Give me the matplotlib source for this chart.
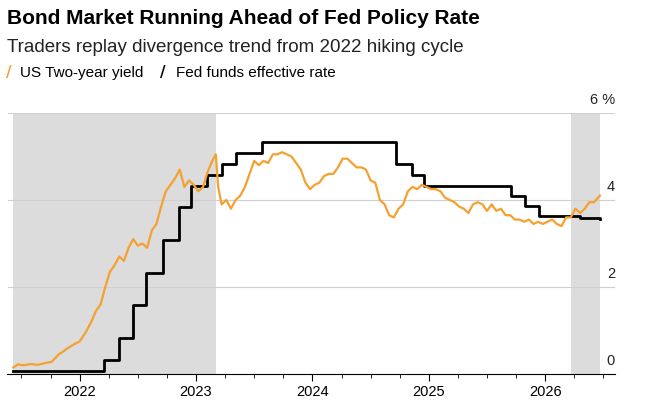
import matplotlib.pyplot as plt
import matplotlib.transforms as mtransforms

# Fed funds effective rate (step dates, values)
fed_dates = [2021.43, 2022.21, 2022.34, 2022.46, 2022.57, 2022.72, 2022.85, 2022.96,
             2023.09, 2023.22, 2023.34, 2023.57, 2024.72, 2024.86, 2024.96,
             2025.71, 2025.83, 2025.95, 2026.30, 2026.47]
fed_vals = [0.08, 0.33, 0.83, 1.58, 2.33, 3.08, 3.83, 4.33,
            4.58, 4.83, 5.08, 5.33, 4.83, 4.58, 4.33,
            4.09, 3.87, 3.64, 3.58, 3.56]

# US two-year yield (approximate readings)
y2_dates = [2021.43, 2021.47, 2021.52, 2021.58, 2021.64, 2021.70, 2021.76, 2021.82, 2021.86,
            2021.90, 2021.95, 2022.00, 2022.05, 2022.10, 2022.14, 2022.18, 2022.22, 2022.26,
            2022.30, 2022.34, 2022.38, 2022.42, 2022.46, 2022.50, 2022.54, 2022.58, 2022.62,
            2022.66, 2022.70, 2022.74, 2022.78, 2022.82, 2022.86, 2022.90, 2022.94, 2022.98,
            2023.02, 2023.06, 2023.10, 2023.14, 2023.17, 2023.19, 2023.22, 2023.26, 2023.30,
            2023.34, 2023.38, 2023.42, 2023.46, 2023.50, 2023.54, 2023.58, 2023.62, 2023.66,
            2023.70, 2023.74, 2023.78, 2023.82, 2023.86, 2023.90, 2023.94, 2023.98, 2024.02,
            2024.06, 2024.10, 2024.14, 2024.18, 2024.22, 2024.26, 2024.30, 2024.34, 2024.38,
            2024.42, 2024.46, 2024.50, 2024.54, 2024.58, 2024.62, 2024.66, 2024.70, 2024.74,
            2024.78, 2024.82, 2024.86, 2024.90, 2024.94, 2024.98, 2025.02, 2025.06, 2025.10,
            2025.14, 2025.18, 2025.22, 2025.26, 2025.30, 2025.34, 2025.38, 2025.42, 2025.46,
            2025.50, 2025.54, 2025.58, 2025.62, 2025.66, 2025.70, 2025.74, 2025.78, 2025.82,
            2025.86, 2025.90, 2025.94, 2025.98, 2026.02, 2026.06, 2026.10, 2026.14, 2026.18,
            2026.22, 2026.26, 2026.30, 2026.34, 2026.38, 2026.42, 2026.47]
y2_vals = [0.15, 0.22, 0.20, 0.23, 0.21, 0.25, 0.28, 0.45, 0.52,
           0.60, 0.68, 0.75, 0.95, 1.20, 1.45, 1.60, 2.00, 2.35,
           2.50, 2.70, 2.60, 2.90, 3.10, 2.95, 3.00, 2.90, 3.30,
           3.45, 3.85, 4.20, 4.35, 4.50, 4.70, 4.30, 4.45, 4.35,
           4.20, 4.30, 4.65, 4.90, 5.05, 4.30, 3.90, 4.00, 3.80,
           4.00, 4.10, 4.30, 4.60, 4.90, 4.80, 4.90, 4.85, 5.05,
           5.05, 5.10, 5.05, 5.00, 4.85, 4.70, 4.40, 4.25, 4.35,
           4.40, 4.55, 4.60, 4.60, 4.75, 4.95, 4.95, 4.85, 4.75,
           4.75, 4.70, 4.45, 4.40, 4.00, 3.90, 3.65, 3.60, 3.80,
           3.90, 4.20, 4.30, 4.25, 4.35, 4.30, 4.25, 4.25, 4.20,
           4.05, 4.00, 3.95, 3.85, 3.80, 3.70, 3.90, 3.95, 3.90,
           3.75, 3.90, 3.75, 3.80, 3.65, 3.65, 3.55, 3.55, 3.50,
           3.55, 3.45, 3.50, 3.45, 3.50, 3.55, 3.45, 3.40, 3.60,
           3.60, 3.80, 3.70, 3.80, 3.95, 3.95, 4.10]

recessions = [(2021.43, 2023.17), (2026.22, 2026.47)]
years = [2022, 2023, 2024, 2025, 2026]
yticks = [0, 2, 4, 6]

fig = plt.figure(figsize=(6.47, 4.11), dpi=100)
ax = fig.add_axes([7.5 / 647, 1 - 374 / 411, (615 - 7.5) / 647, (374 - 113) / 411])
ax.set_xlim(2021.38, 2026.6)
ax.set_ylim(0, 6)

for a, b in recessions:
    ax.axvspan(a, b, ymin=0, ymax=1, color='#dcdcdc', lw=0, zorder=0)

for v in yticks[1:]:
    ax.axhline(v, color='#d0d0d0', lw=0.8, zorder=1)
tr = mtransforms.blended_transform_factory(ax.transAxes, ax.transData)
for v in yticks:
    lab = '6 %' if v == 6 else str(v)
    ax.text(1.0, v + 0.13, lab, transform=tr, ha='right', va='bottom', fontsize=10.5,
            family='Liberation Sans', color='#222222')

ax.step(fed_dates, fed_vals, where='post', color='black', lw=2, zorder=3)
ax.plot(y2_dates, y2_vals, color='#f5a030', lw=1.6, zorder=4)

for s in ['top', 'right', 'left']:
    ax.spines[s].set_visible(False)
ax.spines['bottom'].set_color('black')
ax.set_yticks([])
ax.set_xticks(years)
ax.set_xticklabels([str(y) for y in years], family='Liberation Sans', fontsize=10.5)
minor = [2021.5, 2021.75] + [y + q for y in years for q in (0.25, 0.5, 0.75)]
ax.set_xticks([m for m in minor if m < 2026.6], minor=True)
ax.tick_params(axis='x', which='major', length=5, color='black', pad=3)
ax.tick_params(axis='x', which='minor', length=3, color='black')

fig.text(7 / 647, 1 - 18 / 411, 'Bond Market Running Ahead of Fed Policy Rate', fontsize=15,
         fontweight='bold', family='Liberation Sans', va='center')
fig.text(7 / 647, 1 - 47 / 411, 'Traders replay divergence trend from 2022 hiking cycle', fontsize=13.5,
         family='Liberation Sans', va='center', color='#222222')
fig.text(6 / 647, 1 - 73 / 411, '/', fontsize=11, color='#f5a030', fontweight='bold', va='center',
         family='DejaVu Sans')
fig.text(20 / 647, 1 - 73 / 411, 'US Two-year yield', fontsize=11, family='Liberation Sans', va='center')
fig.text(160 / 647, 1 - 73 / 411, '/', fontsize=11, color='black', fontweight='bold', va='center',
         family='DejaVu Sans')
fig.text(176 / 647, 1 - 73 / 411, 'Fed funds effective rate', fontsize=11, family='Liberation Sans',
         va='center')

fig.savefig('out.png', dpi=100)
